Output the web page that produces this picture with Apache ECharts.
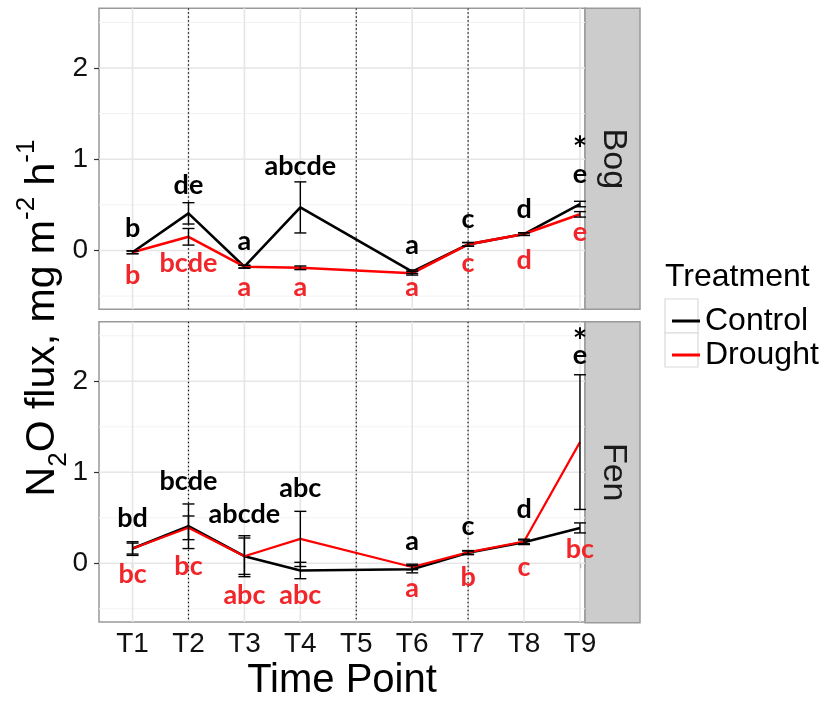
<!DOCTYPE html>
<html><head><meta charset="utf-8">
<script src="https://cdn.jsdelivr.net/npm/echarts@6/dist/echarts.min.js"></script>
<style>html,body{margin:0;padding:0;background:#fff}#c{width:823px;height:702px}</style>
</head><body><div id="c"></div>
<script>
// ---------------- data ----------------
const timePoints = ['T1','T2','T3','T4','T5','T6','T7','T8','T9'];
const yTicks = [0, 1, 2];
const yMinorLines = [-0.5, 0.5, 1.5, 2.5];
const dottedTimes = [2, 5, 7];

// Bog
const bogControl   = [-0.02, 0.407, -0.178, 0.472, null, -0.233, 0.067, 0.18, 0.509];
const bogControlSE = [0.015, 0.117, 0.015, 0.28, null, 0.02, 0.02, 0.015, 0.03];
const bogDrought   = [-0.02, 0.15, -0.178, -0.19, null, -0.25, 0.067, 0.18, 0.396];
const bogDroughtSE = [0.015, 0.091, 0.015, 0.02, null, 0.02, 0.02, 0.015, 0.03];
const bogControlLetters = ['b','de','a','abcde','','a','c','d','e'];
const bogControlLetterY = [0.242, 0.717, 0.067, 0.918, null, 0.023, 0.304, 0.45, 0.797];
const bogDroughtLetters = ['b','bcde','a','a','','a','c','d','e'];
const bogDroughtLetterY = [-0.27, -0.14, -0.44, -0.44, null, -0.44, -0.178, -0.113, 0.17];
const bogStarY = [null, null, null, null, null, null, null, null, 1.18];

// Fen
const fenControl   = [0.162, 0.407, 0.078, -0.079, null, -0.065, 0.115, 0.231, 0.389];
const fenControlSE = [0.075, 0.245, 0.2, 0.09, null, 0.04, 0.02, 0.025, 0.055];
const fenDrought   = [0.162, 0.39, 0.078, 0.268, null, -0.04, 0.12, 0.24, 1.332];
const fenDroughtSE = [0.06, 0.13, 0.225, 0.303, null, 0.03, 0.02, 0.025, 0.74];
const fenControlLetters = ['bd','bcde','abcde','abc','','a','c','d','e'];
const fenControlLetterY = [0.5, 0.9, 0.535, 0.82, null, 0.206, 0.37, 0.59, 2.257];
const fenDroughtLetters = ['bc','bc','abc','abc','','a','b','c','bc'];
const fenDroughtLetterY = [-0.123, -0.032, -0.35, -0.35, null, -0.306, -0.159, -0.076, 0.151];
const fenStarY = [null, null, null, null, null, null, null, null, 2.51];

// ---------------- helpers ----------------
const RED = '#ff0000';
const RED_TXT = '#f0262a';
const FONT = '"Liberation Sans", Arial, sans-serif';

function pts(vals){ const d=[]; vals.forEach((v,i)=>{ if(v!=null) d.push([i+1, v]); }); return d; }

function lineSeries(name, gi, vals, color, z, width){
  return { type:'line', name, xAxisIndex:gi, yAxisIndex:gi, data:pts(vals), connectNulls:true,
    showSymbol:false, symbol:'none', z, silent:true, animation:false,
    itemStyle:{color}, lineStyle:{color, width} };
}

function errSeries(gi, vals, ses, z){
  const data=[]; vals.forEach((v,i)=>{ if(v!=null && ses[i]!=null) data.push([i+1, v, ses[i]]); });
  return { type:'custom', xAxisIndex:gi, yAxisIndex:gi, data, z, silent:true, animation:false,
    encode:{x:0, y:1},
    renderItem(params, api){
      const x=api.value(0), m=api.value(1), s=api.value(2);
      const t=api.coord([x, m+s]), b=api.coord([x, m-s]); const w=6;
      const st={stroke:'#000', lineWidth:1.4};
      return {type:'group', children:[
        {type:'line', shape:{x1:t[0],y1:t[1],x2:b[0],y2:b[1]}, style:st},
        {type:'line', shape:{x1:t[0]-w,y1:t[1],x2:t[0]+w,y2:t[1]}, style:st},
        {type:'line', shape:{x1:b[0]-w,y1:b[1],x2:b[0]+w,y2:b[1]}, style:st}]};
    }};
}

function textSeries(gi, texts, ys, color, z){
  const data=[], labels=[];
  ys.forEach((y,i)=>{ const t = texts[i]; if(t && y!=null){ data.push([i+1, y]); labels.push(t); } });
  return { type:'custom', xAxisIndex:gi, yAxisIndex:gi, data, z, silent:true, animation:false,
    encode:{x:0, y:1},
    renderItem(params, api){
      const p=api.coord([api.value(0), api.value(1)]);
      const t=labels[params.dataIndex];
      const star = t==='*';
      const asc = /[bdfhklt]/.test(t);
      const dy = star ? 7 : (asc ? 0 : -3);
      return {type:'text', x:p[0], y:p[1]+dy, style:{text:t, fill:color,
        font: star ? 'bold 34px Lato, sans-serif' : 'bold 27px Lato, sans-serif',
        align:'center', verticalAlign:'middle'}};
    }};
}

function gridSeries(gi){
  const items=[];
  yMinorLines.forEach(v=>items.push([0, v, 0]));
  yTicks.forEach(v=>items.push([0, v, 1]));
  timePoints.forEach((t,i)=>items.push([i+1, 0, 2]));
  dottedTimes.forEach(v=>items.push([v, 0, 3]));
  return { type:'custom', xAxisIndex:gi, yAxisIndex:gi, data:items, z:1, silent:true, animation:false,
    encode:{x:0, y:1}, clip:false,
    renderItem(params, api){
      const cs=params.coordSys; const kind=api.value(2);
      if(kind<2){
        const y=api.coord([1, api.value(1)])[1];
        return {type:'line', shape:{x1:cs.x, y1:y, x2:cs.x+cs.width, y2:y},
          style:{stroke: kind===0?'#f3f3f3':'#e6e6e6', lineWidth: kind===0?1:1.6}};
      }
      const x=api.coord([api.value(0), 0])[0];
      if(kind===2) return {type:'line', shape:{x1:x, y1:cs.y, x2:x, y2:cs.y+cs.height},
          style:{stroke:'#e6e6e6', lineWidth:1.6}};
      return {type:'line', shape:{x1:x, y1:cs.y, x2:x, y2:cs.y+cs.height},
          style:{stroke:'#111', lineWidth:1.2, lineDash:[1.5,2.5]}};
    }};
}

function xAxis(gi){
  const bottom = gi===1;
  return { type:'value', gridIndex:gi, min:0.4, max:9.09,
    axisLine:{show:false}, splitLine:{show:false},
    axisTick:{show:bottom, customValues:[1,2,3,4,5,6,7,8,9], length:5, lineStyle:{color:'#333', width:1.2}},
    axisLabel:{show:bottom, customValues:[1,2,3,4,5,6,7,8,9], margin:8,
      formatter:v=>timePoints[Math.round(v)-1], fontSize:28, fontFamily:FONT, color:'#111'},
    name: bottom ? 'Time Point' : '', nameLocation:'middle', nameGap:39,
    nameTextStyle:{fontSize:40, fontFamily:FONT, color:'#000'} };
}
function yAxis(gi){
  return { type:'value', gridIndex:gi, min:-0.645, max:2.655,
    axisLine:{show:false}, splitLine:{show:false},
    axisTick:{show:true, customValues:yTicks, length:5, lineStyle:{color:'#333', width:1.2}},
    axisLabel:{customValues:yTicks, margin:11, fontSize:28, fontFamily:FONT, color:'#111'} };
}

const PL=99, PW=486, PH=301, T1=8.3, T2=321.7, SW=55;

const option = {
  animation:false,
  backgroundColor:'#fff',
  grid:[
    {left:PL, top:T1, width:PW, height:PH, show:true, borderColor:'#999', borderWidth:1.5, backgroundColor:'#fff'},
    {left:PL, top:T2, width:PW, height:PH, show:true, borderColor:'#999', borderWidth:1.5, backgroundColor:'#fff'}
  ],
  xAxis:[xAxis(0), xAxis(1)],
  yAxis:[yAxis(0), yAxis(1)],
  legend:{ data:['Control','Drought'], orient:'vertical', left:667, top:299, itemWidth:28, itemHeight:3,
    itemGap:0, icon:'rect', selectedMode:false,
    textStyle:{fontSize:32, fontFamily:FONT, color:'#000', lineHeight:34, padding:[0,0,0,0]} },
  graphic:[
    {type:'rect', z:0, shape:{x:PL+PW, y:T1, width:SW, height:PH}, style:{fill:'#cccccc', stroke:'#999', lineWidth:1.5}},
    {type:'rect', z:0, shape:{x:PL+PW, y:T2, width:SW, height:PH}, style:{fill:'#cccccc', stroke:'#999', lineWidth:1.5}},
    {type:'text', z:1, x:PL+PW+SW/2+1, y:T1+PH/2, rotation:-Math.PI/2,
      style:{text:'Bog', font:'34px '+FONT, fill:'#1a1a1a', align:'center', verticalAlign:'middle'}},
    {type:'text', z:1, x:PL+PW+SW/2+1, y:T2+PH/2, rotation:-Math.PI/2,
      style:{text:'Fen', font:'34px '+FONT, fill:'#1a1a1a', align:'center', verticalAlign:'middle'}},
    {type:'text', z:1, x:665, y:277,
      style:{text:'Treatment', font:'32px '+FONT, fill:'#000', align:'left', verticalAlign:'middle'}},
    {type:'rect', z:0, shape:{x:665, y:299, width:33, height:34}, style:{fill:'#fff', stroke:'#d9d9d9', lineWidth:1.2}},
    {type:'rect', z:0, shape:{x:665, y:333, width:33, height:34}, style:{fill:'#fff', stroke:'#d9d9d9', lineWidth:1.2}},
    {type:'text', z:1, x:43, y:318, rotation:Math.PI/2,
      style:{text:'{a|N}{b|2}{a|O flux, mg m}{c|-2}{a| h}{c|-1}', align:'center', verticalAlign:'middle',
        rich:{
          a:{fontSize:41, fontFamily:FONT, color:'#000', lineHeight:58},
          b:{fontSize:26, fontFamily:FONT, color:'#000', lineHeight:38, verticalAlign:'bottom'},
          c:{fontSize:26, fontFamily:FONT, color:'#000', lineHeight:20, verticalAlign:'top'}
        }}}
  ],
  series:[
    gridSeries(0), gridSeries(1),
    lineSeries('Control', 0, bogControl, '#000', 2, 2.6),
    lineSeries('Drought', 0, bogDrought, RED, 3, 2.6),
    lineSeries('Control', 1, fenControl, '#000', 2, 2.6),
    lineSeries('Drought', 1, fenDrought, RED, 3, 2.2),
    errSeries(0, bogControl, bogControlSE, 4), errSeries(0, bogDrought, bogDroughtSE, 4),
    errSeries(1, fenControl, fenControlSE, 4), errSeries(1, fenDrought, fenDroughtSE, 4),
    textSeries(0, bogControlLetters, bogControlLetterY, '#000', 5),
    textSeries(0, bogDroughtLetters, bogDroughtLetterY, RED_TXT, 5),
    textSeries(0, ['','','','','','','','','*'], bogStarY, '#000', 5),
    textSeries(1, fenControlLetters, fenControlLetterY, '#000', 5),
    textSeries(1, fenDroughtLetters, fenDroughtLetterY, RED_TXT, 5),
    textSeries(1, ['','','','','','','','','*'], fenStarY, '#000', 5)
  ]
};
const chart = echarts.init(document.getElementById('c'));
chart.setOption(option);
</script></body></html>
